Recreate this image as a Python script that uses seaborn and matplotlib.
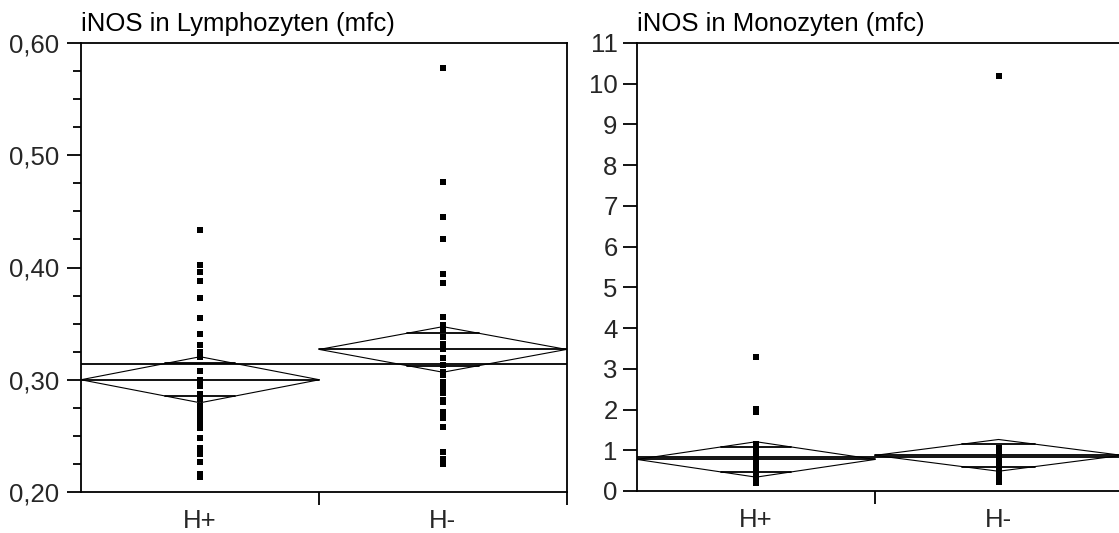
import numpy as np
import pandas as pd
import matplotlib
matplotlib.use("Agg")
import matplotlib.pyplot as plt
from matplotlib.ticker import FixedLocator, MultipleLocator, FuncFormatter, NullFormatter
import seaborn as sns

# ---------------- data ----------------
groups = ["H+", "H-"]

lymph_hplus = [0.433, 0.402, 0.396, 0.388, 0.373, 0.355, 0.341, 0.331, 0.325, 0.320,
               0.308, 0.300, 0.294, 0.287, 0.283, 0.277, 0.273, 0.269, 0.265, 0.261,
               0.257, 0.248, 0.239, 0.234, 0.227, 0.216, 0.213]
lymph_hminus = [0.578, 0.476, 0.445, 0.425, 0.394, 0.386, 0.356, 0.349, 0.344, 0.338,
                0.332, 0.327, 0.319, 0.313, 0.307, 0.304, 0.298, 0.295, 0.290, 0.288,
                0.282, 0.280, 0.271, 0.266, 0.258, 0.236, 0.229, 0.225]
lymph_means = [0.300, 0.327]
lymph_ci = [0.0205, 0.0203]
lymph_grand_mean = 0.314

mono_hplus = [3.30, 2.02, 1.95, 1.15, 1.10, 1.04, 0.92, 0.86, 0.80, 0.74,
              0.70, 0.66, 0.62, 0.58, 0.55, 0.52, 0.49, 0.46, 0.43, 0.40,
              0.37, 0.34, 0.31, 0.28, 0.25, 0.22, 0.20]
mono_hminus = [10.20, 1.05, 1.00, 0.95, 0.90, 0.85, 0.80, 0.77, 0.74, 0.72,
               0.70, 0.68, 0.62, 0.55, 0.50, 0.46, 0.42, 0.38, 0.35, 0.32,
               0.30, 0.28, 0.26, 0.25, 0.24, 0.23, 0.22, 0.22]
mono_means = [0.775, 0.875]
mono_ci = [0.435, 0.39]
mono_grand_mean = 0.83

titles = ["iNOS in Lymphozyten (mfc)", "iNOS in Monozyten (mfc)"]
lymph_yticks = [0.20, 0.30, 0.40, 0.50, 0.60]
mono_yticks = list(range(0, 12))

# ---------------- style ----------------
sns.set_theme(style="white")
plt.rcParams["font.family"] = ["Liberation Sans", "DejaVu Sans"]
FS = 18.5
LW = 1.3

fig = plt.figure(figsize=(11.19, 5.33), dpi=100)
ax1 = fig.add_axes([81 / 1119, 41 / 533, 485.5 / 1119, 449 / 533])
ax2 = fig.add_axes([637 / 1119, 42 / 533, 485 / 1119, 448 / 533])


def draw_panel(ax, data_plus, data_minus, means, cis, grand, title):
    counts = [len(data_plus), len(data_minus)]
    edges = np.concatenate([[0], np.cumsum(counts)])
    centers = (edges[:-1] + edges[1:]) / 2
    df = pd.DataFrame({
        "x": [centers[0]] * counts[0] + [centers[1]] * counts[1],
        "y": list(data_plus) + list(data_minus),
    })
    sns.scatterplot(data=df, x="x", y="y", ax=ax, marker="s", color="black",
                    s=18, linewidth=0, legend=False, zorder=3)
    total = edges[-1]
    # grand mean line
    ax.plot([0, total], [grand, grand], color="black", lw=LW, zorder=2)
    for i in range(2):
        l, r, c = edges[i], edges[i + 1], centers[i]
        m, ci = means[i], cis[i]
        ax.plot([l, c, r, c, l], [m, m + ci, m, m - ci, m], color="black",
                lw=0.8, zorder=2)
        ax.plot([l, r], [m, m], color="black", lw=LW, zorder=2)
        hw = (r - l) / 2
        ov = ci / np.sqrt(2)
        sw = hw * (1 - 1 / np.sqrt(2))
        for yy in (m + ov, m - ov):
            ax.plot([c - sw, c + sw], [yy, yy], color="black", lw=LW, zorder=2)
    ax.set_xlim(0, total)
    ax.xaxis.set_major_locator(FixedLocator(edges[1:]))
    ax.xaxis.set_major_formatter(NullFormatter())
    ax.set_xticks(centers, minor=True)
    ax.set_xticklabels(groups, minor=True)
    ax.tick_params(axis="x", which="major", direction="out", length=9.5,
                   width=LW, color="black", bottom=True)
    ax.tick_params(axis="x", which="minor", length=0, pad=12, labelsize=FS,
                   bottom=True)
    ax.set_xlabel("")
    ax.set_ylabel("")
    ax.text(0.0, 1.026, title, transform=ax.transAxes, ha="left",
            va="baseline", fontsize=FS, color="black")
    for sp in ax.spines.values():
        sp.set_color("black")
        sp.set_linewidth(LW)
        sp.set_visible(True)
    ax.set_facecolor("white")


draw_panel(ax1, lymph_hplus, lymph_hminus, lymph_means, lymph_ci,
           lymph_grand_mean, titles[0])
ax1.set_ylim(0.20, 0.60)
ax1.yaxis.set_major_locator(FixedLocator(lymph_yticks))
ax1.yaxis.set_minor_locator(MultipleLocator(0.025))
ax1.yaxis.set_major_formatter(FuncFormatter(lambda v, p: f"{v:.2f}".replace(".", ",")))
ax1.tick_params(axis="y", which="major", direction="out", length=10, width=LW,
                color="black", left=True, labelsize=FS, pad=6)
ax1.tick_params(axis="y", which="minor", direction="out", length=6, width=LW,
                color="black", left=True)

draw_panel(ax2, mono_hplus, mono_hminus, mono_means, mono_ci,
           mono_grand_mean, titles[1])
ax2.set_ylim(0, 11)
ax2.yaxis.set_major_locator(FixedLocator(mono_yticks))
ax2.yaxis.set_major_formatter(FuncFormatter(lambda v, p: f"{int(v)}"))
ax2.tick_params(axis="y", which="major", direction="out", length=10, width=LW,
                color="black", left=True, labelsize=FS, pad=4)

fig.savefig("out.png", dpi=100)
